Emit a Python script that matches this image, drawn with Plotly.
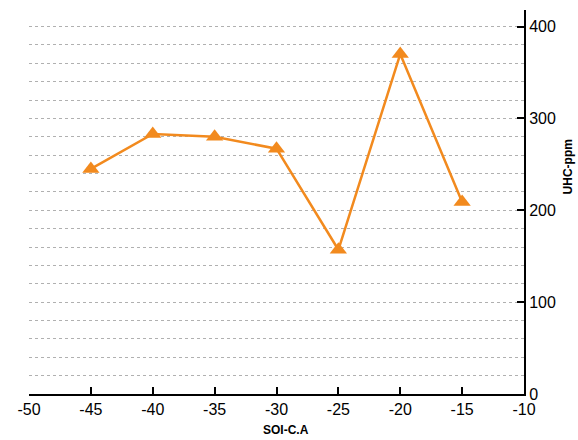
import plotly.graph_objects as go

# Start of injection (degrees crank angle) vs. unburned hydrocarbons
soi_ca = [-45, -40, -35, -30, -25, -20, -15]
uhc_ppm = [245, 283, 280, 267, 157, 370, 209]

x_ticks = [-50, -45, -40, -35, -30, -25, -20, -15, -10]
y_ticks = [0, 100, 200, 300, 400]

orange = "#F28A1E"
font_family = "Liberation Sans, Arial, sans-serif"

fig = go.Figure()
fig.add_trace(go.Scatter(
    x=soi_ca, y=uhc_ppm,
    mode="lines+markers",
    line=dict(color=orange, width=2.5),
    marker=dict(symbol="triangle-up", size=15, color=orange),
    showlegend=False,
))

fig.update_layout(
    width=578, height=440,
    margin=dict(l=29, r=54, t=10, b=46),
    paper_bgcolor="white", plot_bgcolor="white",
    font=dict(family=font_family, color="black", size=16),
    xaxis=dict(
        range=[-50, -10], tickvals=x_ticks,
        ticktext=[str(v) for v in x_ticks],
        showgrid=False, zeroline=False,
        showline=True, linecolor="black", linewidth=2,
        ticks="inside", ticklen=7, tickwidth=2, tickcolor="black",
        tickfont=dict(size=16),
    ),
    yaxis=dict(
        side="right", range=[0, 418], tickvals=y_ticks,
        ticktext=[str(v) for v in y_ticks],
        showgrid=True, gridcolor="#b0b0b0", gridwidth=1, griddash="dot",
        minor=dict(dtick=20, tick0=0, showgrid=True, gridcolor="#b0b0b0",
                   gridwidth=1, griddash="dot"),
        zeroline=False,
        showline=True, linecolor="black", linewidth=2,
        ticks="inside", ticklen=7, tickwidth=2, tickcolor="black",
        tickfont=dict(size=16),
    ),
    annotations=[
        dict(text="<b>SOI-C.A</b>", x=0.52, y=-0.094, xref="paper", yref="paper",
             showarrow=False, xanchor="center", yanchor="middle",
             font=dict(size=12, family=font_family)),
        dict(text="<b>UHC-ppm</b>", x=1.0, xshift=44, y=0.59, xref="paper", yref="paper",
             showarrow=False, textangle=-90, xanchor="center", yanchor="middle",
             font=dict(size=12, family=font_family)),
    ],
)

fig.write_html("out.html")
